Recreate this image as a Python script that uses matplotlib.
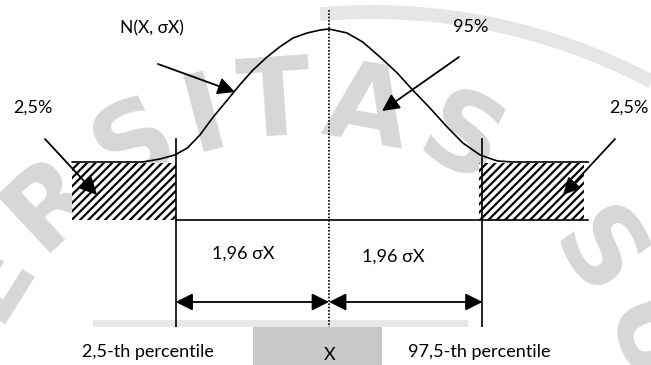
import numpy as np
import matplotlib
matplotlib.use("Agg")
import matplotlib.pyplot as plt
from matplotlib.patches import Rectangle, Arc
from matplotlib.transforms import Affine2D

# curve: position in sigma units and density height
curve_z = [-3.28, -2.80, -2.38, -2.16, -1.97, -1.81, -1.65, -1.48, -1.30, -1.14,
           -0.97, -0.79, -0.63, -0.46, -0.28, -0.11, 0.0, 0.23, 0.43, 0.65,
           0.87, 1.07, 1.29, 1.51, 1.71, 1.93, 2.15, 2.35, 2.86, 3.31]
curve_d = [0.003, 0.003, 0.003, 0.012, 0.024, 0.045, 0.084, 0.138, 0.189, 0.235,
           0.280, 0.319, 0.349, 0.376, 0.391, 0.400, 0.403, 0.391, 0.364, 0.319,
           0.271, 0.219, 0.165, 0.108, 0.060, 0.024, 0.006, 0.003, 0.003, 0.003]

z_crit = 1.96
left_tail = [-3.28, -z_crit]
right_tail = [1.92, 3.26]
tail_depth = -0.171
base_right = 3.31
tick_top = 0.072
line_bottom = -0.493
span_y = -0.418
mean_top = 0.46

tail_label = "2,5%"
mid_label = "95%"
dist_label = "N(X, \u03c3X)"
half_label = "1,96 \u03c3X"
low_label = "2,5-th percentile"
high_label = "97,5-th percentile"
mean_label = "X"

# watermark (university seal letters along an arc)
wm_letters = ["E", "R", "S", "I", "T", "A", "S", "S", "U"]
wm_angles = [-58, -43, -27, -15, -4, 10.5, 26, 54, 70]

W, H = 651, 365
plt.rcParams["hatch.linewidth"] = 1.6
font = ["Lato", "DejaVu Sans"]

fig = plt.figure(figsize=(6.51, 3.65), dpi=100)
ax = fig.add_axes([0, 0, 1, 1])
ax.set_xlim(-4.202, 4.112)
ax.set_ylim(-0.6075, 0.4902)
ax.axis("off")

# pixel-like layout coords (x right, y down) for labels and boxes
pix = Affine2D().scale(1 / W, -1 / H).translate(0, 1) + ax.transAxes

# --- watermark
cx, cy, r = 300, 470, 365
for ch, a in zip(wm_letters, wm_angles):
    t = np.radians(a)
    ax.text(cx + r * np.sin(t), cy - r * np.cos(t), ch, transform=pix,
            rotation=-a, rotation_mode="anchor", ha="center", va="center",
            fontsize=78, fontweight="bold", color="#d7d7d7", zorder=0,
            family="DejaVu Sans")
ax.add_patch(Arc((372, 608), 2 * 596, 2 * 596, theta1=-95, theta2=-62,
                 transform=pix, color="#e6e6e6", lw=10, zorder=0))
ax.add_patch(Rectangle((93, 320), 374, 7, transform=pix, color="#e8e8e8", zorder=0))

# --- white label boxes
for bx in [(97, 3, 155, 41), (190, 229, 130, 54), (340, 229, 128, 56)]:
    ax.add_patch(Rectangle(bx[:2], bx[2], bx[3], transform=pix,
                           facecolor="white", edgecolor="none", zorder=1))

# --- curve and tails
ax.plot(curve_z, curve_d, color="black", lw=1.2, zorder=2)
for tail in [left_tail, right_tail]:
    ax.bar(tail[0], -tail_depth, width=tail[1] - tail[0], bottom=tail_depth,
           align="edge", facecolor="white", edgecolor="black", hatch="////",
           linewidth=0, zorder=2)

ax.plot([-z_crit, base_right], [tail_depth, tail_depth], color="black", lw=1.2, zorder=2)
for zc in [-z_crit, z_crit]:
    ax.plot([zc, zc], [tick_top, line_bottom], color="black", lw=1.2, zorder=2)
ax.plot([0, 0], [mean_top, line_bottom - 0.1], color="black", lw=1.2,
        linestyle=(0, (1, 1)), zorder=2)

arrow2 = dict(arrowstyle="<|-|>", color="black", lw=1.3, mutation_scale=26,
              shrinkA=0, shrinkB=0)
ax.annotate("", xy=(-z_crit, span_y), xytext=(0, span_y), arrowprops=arrow2, zorder=2)
ax.annotate("", xy=(0, span_y), xytext=(z_crit, span_y), arrowprops=arrow2, zorder=2)

# --- bottom boxes
ax.add_patch(Rectangle((45, 327), 208, 38, transform=pix, facecolor="white",
                       edgecolor="none", zorder=3))
ax.add_patch(Rectangle((382, 327), 214, 38, transform=pix, facecolor="white",
                       edgecolor="none", zorder=3))
ax.add_patch(Rectangle((253, 327), 129, 38, transform=pix, facecolor="#c9c9c9",
                       edgecolor="none", zorder=3))

# --- labels
txt = dict(transform=pix, ha="center", va="center", fontsize=13,
           family=font, color="black", zorder=4)
ax.text(152, 28, dist_label, **{**txt, "fontsize": 12.5})
ax.text(471, 27, mid_label, **txt)
ax.text(33, 108, tail_label, **txt)
ax.text(629, 108, tail_label, **txt)
ax.text(243, 254, half_label, **txt)
ax.text(393, 257, half_label, **txt)
ax.text(148, 352, low_label, **txt)
ax.text(330, 355, mean_label, **txt)
ax.text(479, 352, high_label, **txt)

# --- pointer arrows
arrow1 = dict(arrowstyle="-|>", color="black", lw=1.3, mutation_scale=26,
              shrinkA=0, shrinkB=0)
for tail_pt, head_pt in [((158, 64), (235, 92)), ((459, 57), (382, 111)),
                         ((45, 139), (97, 195)), ((615, 139), (563, 195))]:
    ax.annotate("", xy=head_pt, xycoords=pix, xytext=tail_pt, textcoords=pix,
                arrowprops=arrow1, zorder=4)

fig.savefig("out.png", dpi=100)
